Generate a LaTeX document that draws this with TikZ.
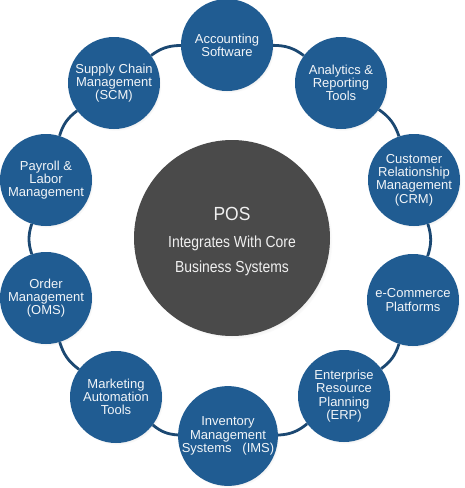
\documentclass[tikz,border=0pt]{standalone}
\usepackage{fontspec}
\setmainfont{Liberation Sans}
\newfontfamily\condfont[FakeStretch=0.87]{Liberation Sans}
\newfontfamily\posfont[FakeStretch=0.92]{Liberation Sans}
\usetikzlibrary{shadows}
\definecolor{satblue}{HTML}{205C92}
\definecolor{ringblue}{HTML}{1B4872}
\definecolor{posgray}{HTML}{4A4A4A}
\definecolor{sattext}{HTML}{F2F5F8}
\begin{document}
\begin{tikzpicture}[x=1pt,y=-1pt,
  sat/.style={circle, fill=satblue, minimum size=92pt, inner sep=0pt,
    text=sattext, align=center, font=\fontsize{13}{13.3}\selectfont,
    circular drop shadow={shadow xshift=1.5pt, shadow yshift=-2pt, shadow scale=1.0, opacity=0.25}},
  hub/.style={circle, fill=posgray, minimum size=196pt, inner sep=0pt,
    circular drop shadow={shadow xshift=2.5pt, shadow yshift=-3pt, shadow scale=1.0, opacity=0.35}},
  hubtext/.style={text=white!94!black, anchor=base, inner sep=0pt},
  link/.style={draw=ringblue, line width=2.8pt, bend left=18}]
\useasboundingbox (0,0) rectangle (465,488);
\node[hub] (pos) at (232,238) {};
\node[hubtext, font=\posfont\fontsize{19}{22}\selectfont] (postitle) at (232,220) {POS};
\node[hubtext, font=\condfont\fontsize{16}{20}\selectfont] (posline1) at (232,247) {Integrates With Core};
\node[hubtext, font=\condfont\fontsize{16}{20}\selectfont] (posline2) at (232,272) {Business Systems};
\node[sat] (acc) at (227,45) {Accounting\\Software};
\node[sat] (ana) at (341,83) {Analytics \&\\Reporting\\Tools};
\node[sat] (crm) at (414,180) {Customer\\Relationship\\Management\\(CRM)};
\node[sat] (ecom) at (413,300) {e-Commerce\\Platforms};
\node[sat] (erp) at (344,396) {Enterprise\\Resource\\Planning\\(ERP)};
\node[sat] (inv) at (228,436) {Inventory\\Management\\Systems\ \ \ (IMS)};
\node[sat] (mkt) at (116,397) {Marketing\\Automation\\Tools};
\node[sat] (oms) at (46,298) {Order\\Management\\(OMS)};
\node[sat] (pay) at (46,180) {Payroll \&\\Labor\\Management};
\node[sat] (scm) at (114,83) {Supply Chain\\Management\\(SCM)};
\draw[link] (acc) to (ana);
\draw[link] (ana) to (crm);
\draw[link] (crm) to (ecom);
\draw[link] (ecom) to (erp);
\draw[link] (erp) to (inv);
\draw[link] (inv) to (mkt);
\draw[link] (mkt) to (oms);
\draw[link] (oms) to (pay);
\draw[link] (pay) to (scm);
\draw[link] (scm) to (acc);
\end{tikzpicture}
\end{document}
